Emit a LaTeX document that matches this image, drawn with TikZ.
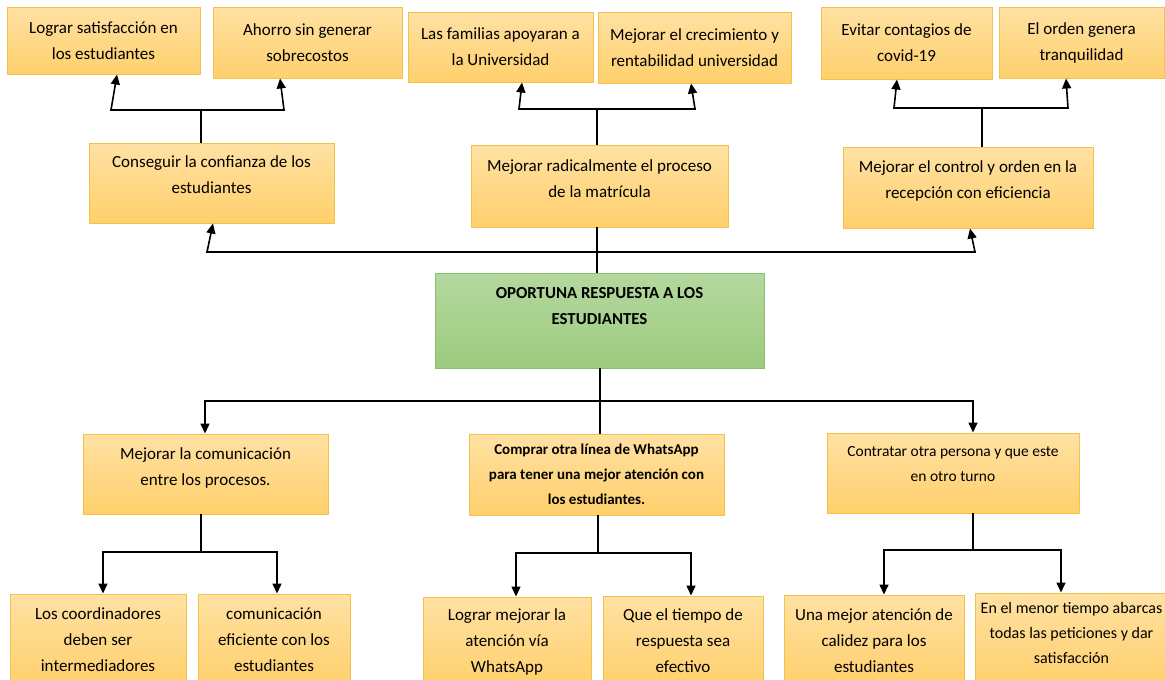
\documentclass[tikz,border=0pt]{standalone}
\usepackage{fontspec}
\setmainfont{Carlito}
\usetikzlibrary{arrows.meta,calc}
\definecolor{cajaborde}{HTML}{F2C14E}
\definecolor{cajaarriba}{HTML}{FFE1A3}
\definecolor{cajaabajo}{HTML}{FFD06C}
\definecolor{verdeborde}{HTML}{8BBE6C}
\definecolor{verdearriba}{HTML}{B4D89F}
\definecolor{verdeabajo}{HTML}{9CCB7E}
\tikzset{
 caja/.style={draw=cajaborde, line width=1pt, top color=cajaarriba, bottom color=cajaabajo,
   align=center, inner sep=0pt, font=\fontsize{17}{26}\selectfont},
 raiz/.style={caja, draw=verdeborde, top color=verdearriba, bottom color=verdeabajo,
   font=\bfseries\fontsize{16.8}{26}\selectfont},
 linea/.style={line width=1.6pt, line cap=rect},
 flecha/.style={line width=1.6pt, -{Triangle[length=10pt,width=9pt]}},
 }

\begin{document}
\begin{tikzpicture}[x=1pt, y=-1pt]
        \useasboundingbox (0,0) rectangle (1165,680);

        % efectos
        \node[caja, minimum width=193, minimum height=67] (A1) at (103.5,40.5) {Lograr satisfacción en\\los estudiantes};
        \node[caja, minimum width=189, minimum height=71] (A2) at (307.5,42.5) {Ahorro sin generar\\sobrecostos};
        \node[caja, minimum width=185, minimum height=70] (B1) at (500.5,47) {Las familias apoyaran a\\la Universidad};
        \node[caja, minimum width=193, minimum height=71] (B2) at (694.5,47.5) {Mejorar el crecimiento y\\rentabilidad universidad};
        \node[caja, minimum width=171, minimum height=72] (C1) at (906.5,43) {Evitar contagios de\\covid-19};
        \node[caja, minimum width=165, minimum height=71] (C2) at (1081.5,42.5) {El orden genera\\tranquilidad};

        \node[caja, minimum width=245, minimum height=80, text depth=17] (A) at (211.5,183) {Conseguir la confianza de los\\estudiantes};
        \node[caja, minimum width=257, minimum height=82, text depth=15] (B) at (599.5,186) {Mejorar radicalmente el proceso\\de la matrícula};
        \node[caja, minimum width=250, minimum height=81, text depth=15] (C) at (968,187.5) {Mejorar el control y orden en la\\recepción con eficiencia};

        \node[raiz, minimum width=329, minimum height=95, text depth=30] (M) at (599.5,320.5) {OPORTUNA RESPUESTA A LOS\\ESTUDIANTES};

        % medios
        \node[caja, minimum width=245, minimum height=80, text depth=15] (D) at (205.5,474) {Mejorar la comunicación\\entre los procesos.};
        \node[caja, minimum width=255, minimum height=81, font=\bfseries\fontsize{15}{25}\selectfont] (E) at (596.5,474.5) {Comprar otra línea de WhatsApp\\para tener una mejor atención con\\los estudiantes.};
        \node[caja, minimum width=252, minimum height=80, text depth=19, font=\fontsize{15.5}{25}\selectfont] (F) at (953,473) {Contratar otra persona y que este\\en otro turno};

        \node[caja, minimum width=176, minimum height=92] (D1) at (98,640) {Los coordinadores\\deben ser\\intermediadores};
        \node[caja, minimum width=152, minimum height=92] (D2) at (274,640) {comunicación\\eficiente con los\\estudiantes};
        \node[caja, minimum width=168, minimum height=89] (E1) at (507,641.5) {Lograr mejorar la\\atención vía\\WhatsApp};
        \node[caja, minimum width=160, minimum height=90] (E2) at (683,641) {Que el tiempo de\\respuesta sea\\efectivo};
        \node[caja, minimum width=180, minimum height=91] (F1) at (874,640.5) {Una mejor atención de\\calidez para los\\estudiantes};
        \node[caja, minimum width=193, minimum height=93, text depth=13, font=\fontsize{16}{25}\selectfont] (F2) at (1071.5,639.5) {En el menor tiempo abarcas\\todas las peticiones y dar\\satisfacción};

        % puntos de union
        \coordinate (a-j) at (201,110); \coordinate (a-l) at (111,110); \coordinate (a-r) at (284,110);
        \coordinate (b-j) at (597,109); \coordinate (b-l) at (519,109); \coordinate (b-r) at (695,109);
        \coordinate (c-j) at (982,108); \coordinate (c-l) at (894,108); \coordinate (c-r) at (1068,108);
        \coordinate (m-l) at (207,252); \coordinate (m-r) at (975,252); \coordinate (m-j) at (597,252);
        \coordinate (n-l) at (205,401); \coordinate (n-r) at (973,401); \coordinate (n-j) at (600,401);
        \coordinate (d-j) at (201,552); \coordinate (d-l) at (103,552); \coordinate (d-r) at (277,552);
        \coordinate (e-j) at (598,553); \coordinate (e-l) at (516,553); \coordinate (e-r) at (691,553);
        \coordinate (f-j) at (973,550); \coordinate (f-l) at (884,550); \coordinate (f-r) at (1061,550);

        \foreach \g/\G in {a/A, b/B, c/C} {
            \draw[linea] (\G.north -| \g-j) -- (\g-j);
            \draw[linea] (\g-l) -- (\g-r);
        }
        \draw[flecha] (a-l) -- ($(A1.south)+(13.5,0)$);
        \draw[flecha] (a-r) -- ($(A2.south)+(-27.5,0)$);
        \draw[flecha] (b-l) -- ($(B1.south)+(21.5,0)$);
        \draw[flecha] (b-r) -- ($(B2.south)+(-3.5,0)$);
        \draw[flecha] (c-l) -- ($(C1.south)+(-9.5,0)$);
        \draw[flecha] (c-r) -- ($(C2.south)+(-15.5,0)$);

        \draw[linea] (B.south -| m-j) -- (m-j |- M.north);
        \draw[linea] (m-l) -- (m-r);
        \draw[flecha] (m-l) -- ($(A.south)+(1.5,0)$);
        \draw[flecha] (m-r) -- ($(C.south)+(2,0)$);

        \draw[linea] (M.south -| n-j) -- (n-j |- E.north);
        \draw[linea] (n-l) -- (n-r);
        \draw[flecha] (n-l) -- (n-l |- D.north);
        \draw[flecha] (n-r) -- (n-r |- F.north);

        \foreach \g/\G in {d/D, e/E, f/F} {
            \draw[linea] (\G.south -| \g-j) -- (\g-j);
            \draw[linea] (\g-l) -- (\g-r);
            \draw[flecha] (\g-l) -- (\g-l |- \G1.north);
            \draw[flecha] (\g-r) -- (\g-r |- \G2.north);
        }
    \end{tikzpicture}
\end{document}
